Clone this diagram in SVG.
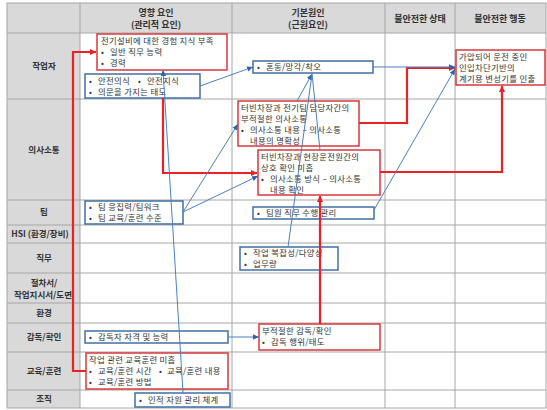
<svg xmlns="http://www.w3.org/2000/svg" width="547" height="410" viewBox="0 0 547 410">
<defs>
<style>
text{font-family:"Noto Sans CJK KR","Liberation Sans",sans-serif;fill:#333;}
.hd{font-size:9px;font-weight:bold;text-anchor:middle;}
.rl{font-size:8.5px;font-weight:bold;text-anchor:middle;}
.bt{font-size:8.4px;letter-spacing:0.3px;}
.grid{stroke:#a6a6a6;stroke-width:1;fill:none;}
.rb{fill:#fff;stroke:#d9393b;stroke-width:1.5;}
.bb{fill:#fff;stroke:#3f6fa3;stroke-width:1.5;}
.rc{fill:none;stroke:#ec2027;stroke-width:2.2;marker-end:url(#ar);}
.bc{fill:none;stroke:#4a80c2;stroke-width:1;marker-end:url(#ab);}
.bcn{fill:none;stroke:#4a80c2;stroke-width:1;}
</style>
<marker id="ar" markerUnits="userSpaceOnUse" markerWidth="7" markerHeight="7" refX="6" refY="3.5" orient="auto"><path d="M0,0.5 L6.5,3.5 L0,6.5 Z" fill="#ec2027"/></marker>
<marker id="ab" markerUnits="userSpaceOnUse" markerWidth="7" markerHeight="7" refX="6" refY="3.5" orient="auto"><path d="M0,0.8 L6,3.5 L0,6.2 Z" fill="#2f62a8"/></marker>
</defs>

<g id="table">
<rect x="7" y="3" width="539" height="30" fill="#d9d9d9"/>
<rect x="7" y="33" width="73" height="375" fill="#d9d9d9"/>
<rect x="7" y="3" width="539" height="405" class="grid" stroke="#8c8c8c"/>
<path class="grid" d="M80,3 V408 M232,3 V408 M385,3 V408 M455,3 V408 M7,33 H546 M7,99 H546 M7,200 H546 M7,225 H546 M7,243 H546 M7,273 H546 M7,303 H546 M7,323 H546 M7,352 H546 M7,390 H546"/>
<text class="hd" x="156" y="16">영향 요인</text>
<text class="hd" x="156" y="28">(관리적 요인)</text>
<text class="hd" x="308" y="16">기본원인</text>
<text class="hd" x="308" y="28">(근원요인)</text>
<text class="hd" x="420" y="22">불안전한 상태</text>
<text class="hd" x="500" y="22">불안전한 행동</text>
<text class="rl" x="44" y="69">작업자</text>
<text class="rl" x="44" y="153">의사소통</text>
<text class="rl" x="44" y="215">팀</text>
<text class="rl" x="40" y="237">HSI (환경/장비)</text>
<text class="rl" x="44" y="261">직무</text>
<text class="rl" x="44" y="286">절차서/</text>
<text class="rl" x="43" y="298">작업지시서/도면</text>
<text class="rl" x="44" y="316">환경</text>
<text class="rl" x="44" y="340">감독/확인</text>
<text class="rl" x="44" y="374">교육/훈련</text>
<text class="rl" x="44" y="402">조직</text>
</g>

<g id="n-experience">
<rect class="rb" x="97" y="34" width="130" height="36"/>
<text class="bt" x="101" y="44">전기설비에 대한 경험 지식 부족</text>
<text class="bt" x="101" y="55">•<tspan x="110">일반 직무 능력</tspan></text>
<text class="bt" x="101" y="66">•<tspan x="110">경력</tspan></text>
</g>
<g id="n-safety">
<rect class="bb" x="85" y="74" width="115" height="24"/>
<text class="bt" x="89" y="84">•<tspan x="98">안전의식</tspan><tspan x="138">•</tspan><tspan x="147">안전지식</tspan></text>
<text class="bt" x="89" y="95">•<tspan x="98">의문을 가지는 태도</tspan></text>
</g>
<g id="n-confusion">
<rect class="bb" x="253" y="61" width="120" height="12"/>
<text class="bt" x="257" y="70">•<tspan x="266">혼동/망각/착오</tspan></text>
</g>
<g id="n-action">
<rect class="rb" x="456" y="50" width="89" height="35"/>
<text class="bt" x="459" y="60">가압되어 운전 중인</text>
<text class="bt" x="459" y="71">인입차단기반의</text>
<text class="bt" x="459" y="82">계기용 변성기를 인출</text>
</g>
<g id="n-comm1">
<rect class="rb" x="238" y="101" width="121" height="45"/>
<text class="bt" x="241" y="111">터빈차장과 전기팀 담당자간의</text>
<text class="bt" x="241" y="122">부적절한 의사소통</text>
<text class="bt" x="241" y="133">•<tspan x="250">의사소통 내용 – 의사소통</tspan></text>
<text class="bt" x="250" y="144">내용의 명확성</text>
</g>
<g id="n-comm2">
<rect class="rb" x="258" y="150" width="122" height="45"/>
<text class="bt" x="261" y="160">터빈차장과 현장운전원간의</text>
<text class="bt" x="261" y="171">상호 확인 미흡</text>
<text class="bt" x="261" y="182">•<tspan x="270">의사소통 방식 – 의사소통</tspan></text>
<text class="bt" x="270" y="193">내용 확인</text>
</g>
<g id="n-team">
<rect class="bb" x="85" y="201" width="98" height="23"/>
<text class="bt" x="89" y="210">•<tspan x="98">팀 응집력/팀워크</tspan></text>
<text class="bt" x="89" y="221">•<tspan x="98">팀 교육/훈련 수준</tspan></text>
</g>
<g id="n-teammgmt">
<rect class="bb" x="253" y="207" width="121" height="12"/>
<text class="bt" x="257" y="216">•<tspan x="266">팀원 직무 수행 관리</tspan></text>
</g>
<g id="n-task">
<rect class="bb" x="240" y="247" width="98" height="23"/>
<text class="bt" x="244" y="256">•<tspan x="253">작업 복잡성/다양성</tspan></text>
<text class="bt" x="244" y="267">•<tspan x="253">업무량</tspan></text>
</g>
<g id="n-supervisor">
<rect class="bb" x="85" y="331" width="143" height="12"/>
<text class="bt" x="89" y="340">•<tspan x="98">감독자 자격 및 능력</tspan></text>
</g>
<g id="n-supervision">
<rect class="rb" x="259" y="324" width="121" height="26"/>
<text class="bt" x="262" y="334">부적절한 감독/확인</text>
<text class="bt" x="262" y="345">•<tspan x="271">감독 행위/태도</tspan></text>
</g>
<g id="n-training">
<rect class="rb" x="86" y="353" width="142" height="36"/>
<text class="bt" x="89" y="363">작업 관련 교육훈련 미흡</text>
<text class="bt" x="89" y="374">•<tspan x="98">교육/훈련 시간</tspan><tspan x="159">•</tspan><tspan x="167">교육/훈련 내용</tspan></text>
<text class="bt" x="89" y="385">•<tspan x="98">교육/훈련 방법</tspan></text>
</g>
<g id="n-hr">
<rect class="bb" x="135" y="393" width="95" height="14"/>
<text class="bt" x="139" y="403">•<tspan x="148">인적 자원 관리 체계</tspan></text>
</g>

<g id="connectors">
<path class="rc" d="M86,371 H73 V52 H96"/>
<path class="rc" d="M163,98 V173 H257"/>
<path class="rc" d="M359,123 H407 V68 H455"/>
<path class="rc" d="M380,172 H502 V86"/>
<path class="rc" d="M320,324 V196"/>
<path class="bc" d="M200,86 L253,67"/>
<path class="bc" d="M373,67 H455"/>
<path class="bc" d="M297,101 L312,74"/>
<path class="bcn" d="M320,150 L312,74"/>
<path class="bcn" d="M288,247 L312,74"/>
<path class="bc" d="M183,212 L238,124"/>
<path class="bc" d="M183,212 L258,176"/>
<path class="bc" d="M374,210 L455,69"/>
<path class="bc" d="M183,393 L163,70"/>
<path class="bc" d="M228,337 H259"/>
</g>
</svg>
